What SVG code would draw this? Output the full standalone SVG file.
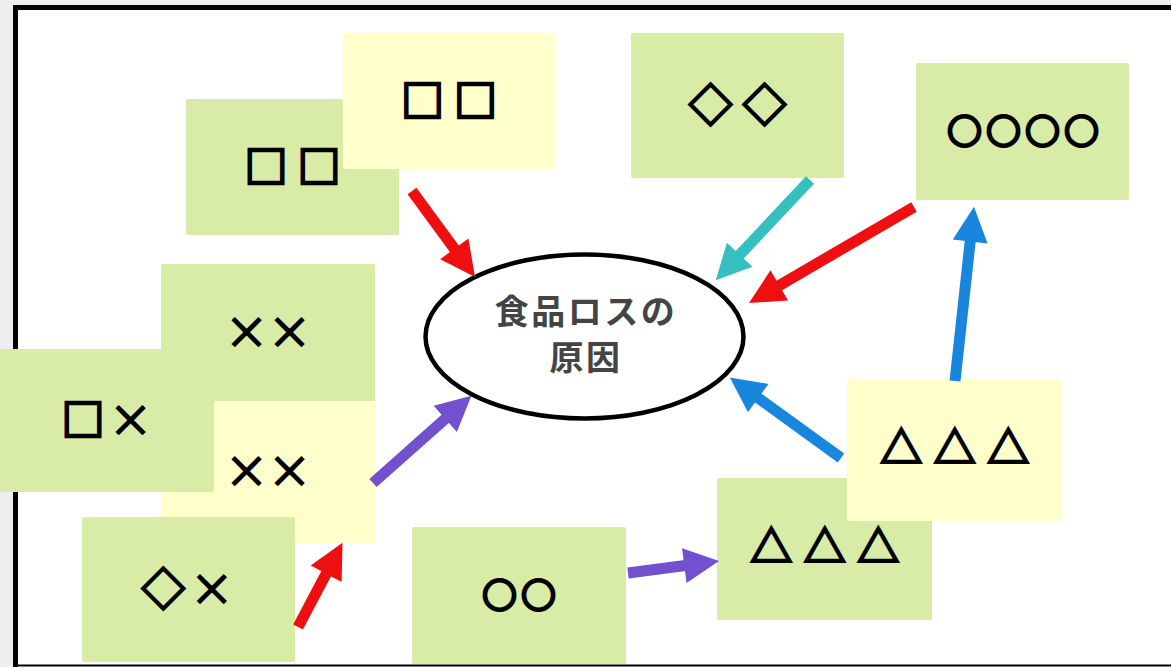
<svg xmlns="http://www.w3.org/2000/svg" width="1171" height="667" viewBox="0 0 1171 667">
<style>
.g{fill:#d8eca8}
.y{fill:#ffffcc}
.t{font-family:"Noto Sans CJK JP","Noto Sans",sans-serif;fill:#000;text-anchor:middle;dominant-baseline:central;font-weight:bold}
.x{font-size:46px}
.s{stroke:#000;stroke-width:2.6;stroke-linejoin:miter}
.sq{font-size:43px}
.dm{font-size:44px;stroke-width:2.2}
.ci{font-size:34px;stroke-width:3.2}
.tr{font-size:42px;stroke-width:2.4}
.c{stroke-width:11;fill:none;stroke-linecap:butt}
.title{font-family:"Noto Sans CJK JP","Noto Sans",sans-serif;fill:#444;font-weight:bold;text-anchor:middle;font-size:34px}
</style>
<defs>
<marker id="hr" markerUnits="userSpaceOnUse" orient="auto" refX="1" refY="0" markerWidth="36" markerHeight="36" overflow="visible"><path d="M0,-17.5 L35,0 L0,17.5 z" fill="#ee1010"/></marker>
<marker id="ht" markerUnits="userSpaceOnUse" orient="auto" refX="1" refY="0" markerWidth="36" markerHeight="36" overflow="visible"><path d="M0,-17.5 L35,0 L0,17.5 z" fill="#35bfbf"/></marker>
<marker id="hb" markerUnits="userSpaceOnUse" orient="auto" refX="1" refY="0" markerWidth="36" markerHeight="36" overflow="visible"><path d="M0,-17.5 L35,0 L0,17.5 z" fill="#1886dc"/></marker>
<marker id="hp" markerUnits="userSpaceOnUse" orient="auto" refX="1" refY="0" markerWidth="36" markerHeight="36" overflow="visible"><path d="M0,-17.5 L35,0 L0,17.5 z" fill="#7250ce"/></marker>
</defs>
<rect x="0" y="0" width="1171" height="667" fill="#eeeeee"/>
<rect x="15.5" y="7.5" width="1170" height="670" fill="#ffffff" stroke="#000" stroke-width="5"/>
<line x1="15" y1="665.5" x2="1171" y2="665.5" stroke="#000" stroke-width="2"/>

<g id="node-sq-green"><rect class="g" x="186" y="99" width="213" height="136" rx="2"/><text class="t s sq" x="297.5" y="164" letter-spacing="10">□□</text></g>
<g id="node-sq-yellow"><rect class="y" x="343" y="33" width="213" height="136" rx="2"/><text class="t s sq" x="454" y="97.5" letter-spacing="10">□□</text></g>
<g id="node-dd"><rect class="g" x="631" y="33" width="213" height="145" rx="2"/><text class="t s dm" x="742.5" y="101.5" letter-spacing="10">◇◇</text></g>
<g id="node-oooo"><rect class="g" x="916" y="63" width="213" height="137" rx="2"/><text class="t s ci" x="1025.5" y="129.5" letter-spacing="5">○○○○</text></g>
<g id="node-xx-green"><rect class="g" x="161" y="264" width="214" height="140" rx="2"/><text class="t x" x="266.5" y="328.5" letter-spacing="-3">××</text></g>
<g id="node-xx-yellow"><rect class="y" x="161" y="401" width="215" height="142" rx="2"/><text class="t x" x="266.5" y="467.5" letter-spacing="-3">××</text></g>
<g id="node-sqx"><rect class="g" x="-5" y="349" width="219" height="143" rx="2"/><text class="t x" x="107.5" y="417"><tspan class="s sq">□</tspan><tspan dx="3">×</tspan></text></g>
<g id="node-dx"><rect class="g" x="82" y="517" width="213" height="145" rx="2"/><text class="t x" x="188" y="586"><tspan class="s dm">◇</tspan><tspan dx="3.5">×</tspan></text></g>
<g id="node-oo"><rect class="g" x="412" y="527" width="214" height="137" rx="2"/><text class="t s ci" x="521.5" y="593.5" letter-spacing="5">○○</text></g>
<g id="node-tri-green"><rect class="g" x="717" y="478" width="215" height="142" rx="2"/><text class="t s tr" x="830.5" y="543" letter-spacing="11.5">△△△</text></g>
<g id="node-tri-yellow"><rect class="y" x="847" y="379" width="215" height="142" rx="2"/><text class="t s tr" x="960.5" y="444" letter-spacing="11.5">△△△</text></g>

<g id="node-center"><ellipse cx="584.5" cy="336.5" rx="159" ry="82" fill="#fff" stroke="#000" stroke-width="4.5"/><text class="title" x="586" y="324" letter-spacing="2.5">食品ロスの</text><text class="title" x="586" y="370" letter-spacing="2.5">原因</text></g>

<g id="connectors">
<line class="c" stroke="#ee1010" x1="412" y1="191" x2="454.9" y2="249.6" marker-end="url(#hr)"/>
<line class="c" stroke="#35bfbf" x1="810" y1="180" x2="739" y2="255.5" marker-end="url(#ht)"/>
<line class="c" stroke="#ee1010" x1="914" y1="207" x2="778.4" y2="285.9" marker-end="url(#hr)"/>
<line class="c" stroke="#1886dc" x1="955" y1="381" x2="970.3" y2="240.5" marker-end="url(#hb)"/>
<line class="c" stroke="#1886dc" x1="841" y1="458" x2="757.4" y2="397.5" marker-end="url(#hb)"/>
<line class="c" stroke="#7250ce" x1="628" y1="573" x2="685.3" y2="565.5" marker-end="url(#hp)"/>
<line class="c" stroke="#7250ce" x1="373" y1="483" x2="446" y2="418.2" marker-end="url(#hp)"/>
<line class="c" stroke="#ee1010" x1="298" y1="627" x2="326.6" y2="572.9" marker-end="url(#hr)"/>
</g>
</svg>
